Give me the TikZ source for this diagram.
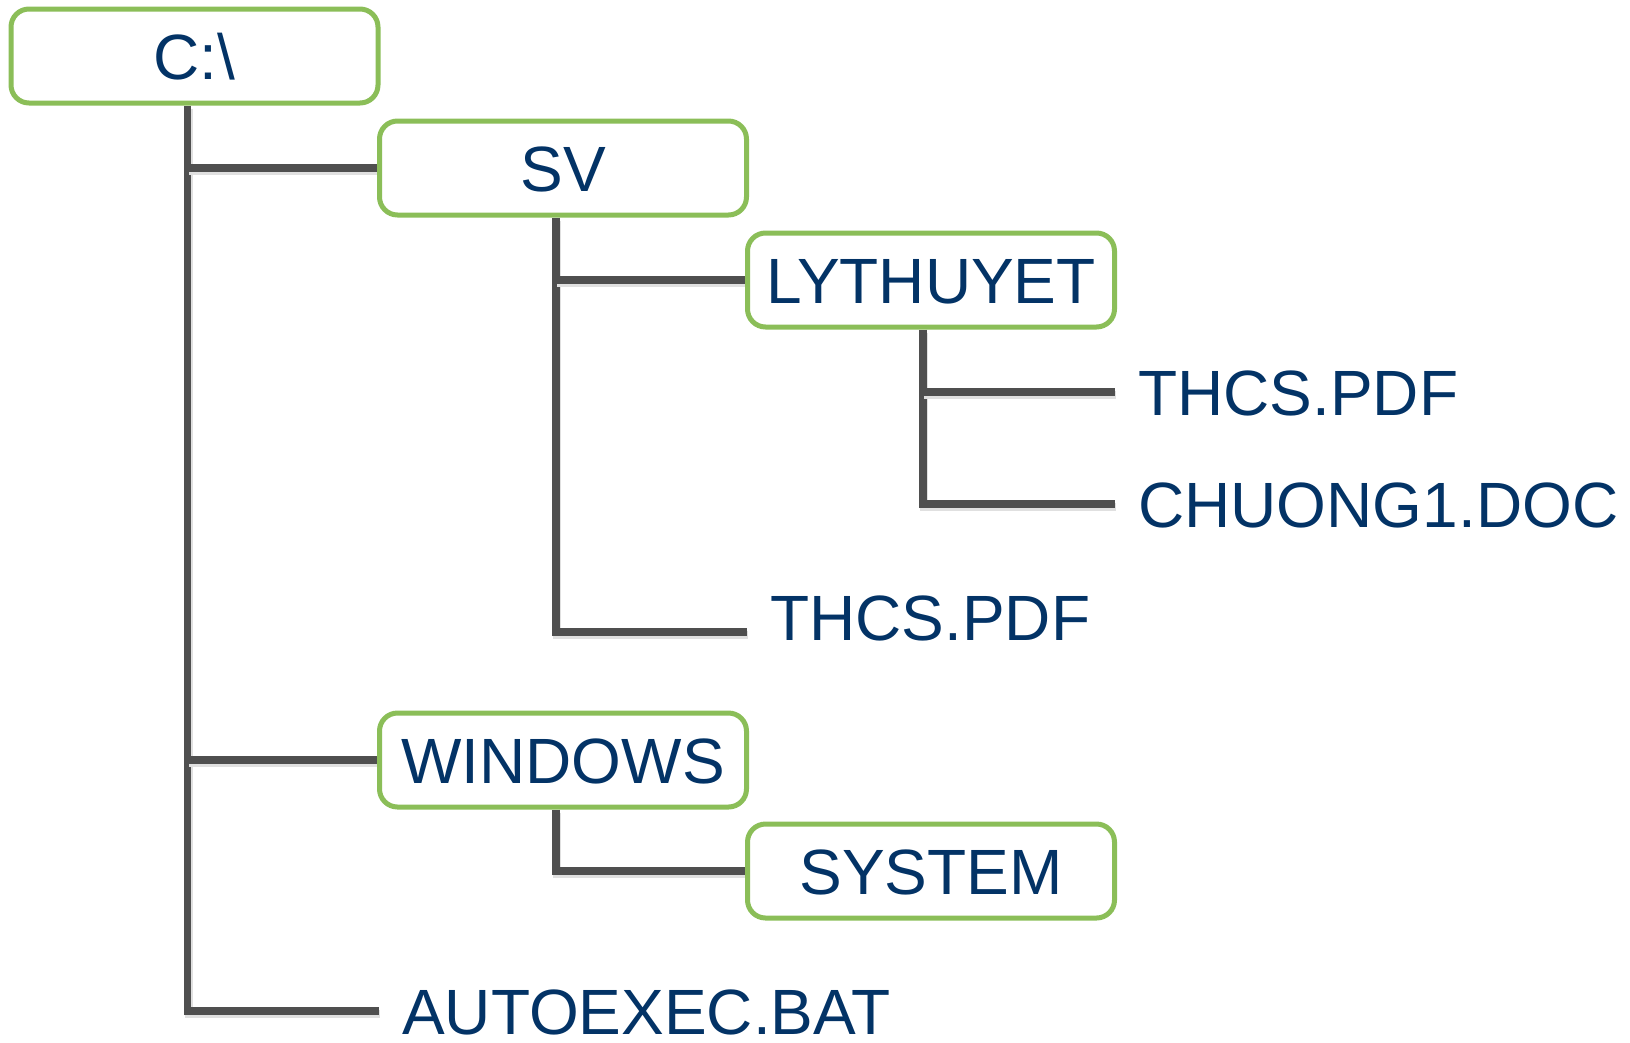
\documentclass[tikz,border=0pt]{standalone}
\usepackage{fontspec}
\setsansfont{Liberation Sans}
\usetikzlibrary{positioning, backgrounds, calc}
\definecolor{cFolder}{HTML}{8BBE58}
\definecolor{cName}{HTML}{033366}
\definecolor{cTree}{HTML}{4F4F4F}
\begin{document}
\begin{tikzpicture}[
  x=1pt, y=-1pt,
  font={\sffamily\fontsize{64}{77}\selectfont},
  folder/.style={draw=cFolder, fill=white, line width=5pt, rounded corners=18pt,
                 minimum width=367pt, minimum height=94pt, inner sep=0pt,
                 text=cName, text height=46pt, text depth=0pt},
  file/.style={anchor=west, inner xsep=23pt, inner ysep=0pt, text=cName,
               text height=46pt, text depth=0pt},
  link/.style={draw=cTree, line width=7.5pt, line join=miter,
               preaction={draw=black!12, line width=8pt,
                          transform canvas={shift={(1pt,-3pt)}}}},
]
\useasboundingbox (0,0) rectangle (1630,1042);

% ---- folders ------------------------------------------------------------
\node[folder] (root)    at (194.5,56)  {C:\textbackslash};
\node[folder] (sv)      at (563,168)   {SV};
\node[folder] (lythuyet) at (931,280)  {LYTHUYET};
\node[folder] (windows) at (563,760)   {WINDOWS};
\node[folder] (system)  at (931,871)   {SYSTEM};

% ---- files --------------------------------------------------------------
\node[file] (thcsA)    at (1115,392) {THCS.PDF};
\node[file] (chuong)   at (1115,504) {CHUONG1.DOC};
\node[file] (thcsB)    at (747,617)  {THCS.PDF};
\node[file] (autoexec) at (379,1011) {AUTOEXEC.BAT};

% trunk tops, a little left of each folder's middle
\coordinate (rootT) at ([xshift=-7pt]root.south);
\coordinate (svT)   at ([xshift=-7pt]sv.south);
\coordinate (lyT)   at ([xshift=-8pt]lythuyet.south);
\coordinate (winT)  at ([xshift=-7pt]windows.south);

% ---- tree lines ---------------------------------------------------------
\begin{scope}[on background layer]
  \draw[link] (rootT) |- (autoexec.west);
  \draw[link] (rootT |- sv.west) -- (sv.west);
  \draw[link] (rootT |- windows.west) -- (windows.west);

  \draw[link] (svT) |- ([yshift=-15pt]thcsB.west);
  \draw[link] (svT |- lythuyet.west) -- (lythuyet.west);

  \draw[link] (lyT) |- (chuong.west);
  \draw[link] (lyT |- thcsA.west) -- (thcsA.west);

  \draw[link] (winT) |- (system.west);
\end{scope}

\end{tikzpicture}
\end{document}
